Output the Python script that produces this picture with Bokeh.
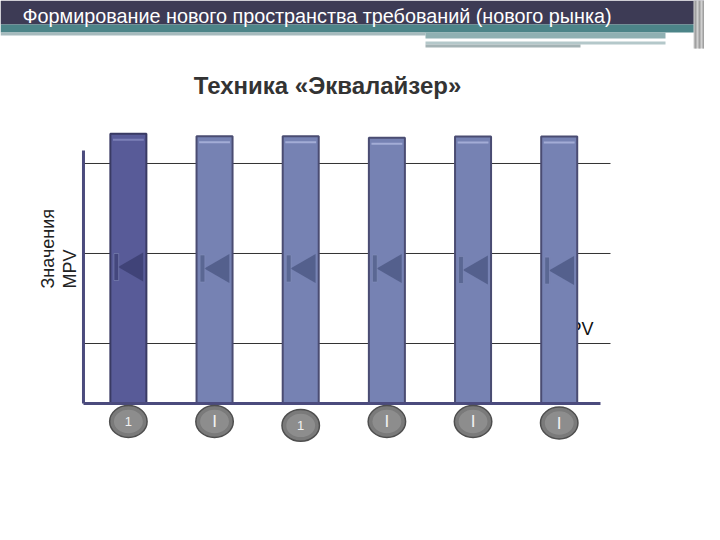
import numpy as np
from bokeh.plotting import figure
from bokeh.models import Range1d
from bokeh.core.properties import value
from bokeh.embed import file_html
from bokeh.resources import INLINE

# ---- data ----
categories = ["1", "I", "1", "I", "I", "I"]          # labels in the round badges
bar_values = [8.99, 8.91, 8.91, 8.86, 8.9, 8.9]       # column heights
slider_values = [4.55, 4.5, 4.5, 4.5, 4.45, 4.43]     # slider (triangle) positions
badge_values = [-0.6, -0.6, -0.73, -0.6, -0.6, -0.65] # badge centre heights
grid_values = [2, 5, 8]                                # horizontal reference lines
highlight = [True, False, False, False, False, False]

header_text = "Формирование нового пространства требований  (нового рынка)"
title_text = "Техника «Эквалайзер»"
ylabel_lines = ["Значения", "MPV"]
FONT = "Liberation Sans"

x = np.arange(1, len(categories) + 1, dtype=float)
bw = 0.418
ax_x0, ax_x1, grid_x1, ax_ytop = 0.479, 6.479, 6.595, 8.43

p = figure(width=704, height=524, x_range=Range1d(-0.484, 7.686),
           y_range=Range1d(-4.033, 13.433), min_border=0,
           x_axis_type=None, y_axis_type=None,
           toolbar_location=None, output_backend="svg",
           outline_line_color=None, background_fill_color="white",
           border_fill_color="white")
p.grid.visible = False
p.extra_x_ranges = {"px": Range1d(0, 704)}
p.extra_y_ranges = {"py": Range1d(524, 0)}
PX = dict(x_range_name="px", y_range_name="py")

# ---- header decoration ----
p.quad(left=[0], right=[720], top=[0], bottom=[24], fill_color="#3d3b55", line_color=None, **PX)
p.quad(left=[0], right=[695], top=[24], bottom=[32], fill_color="#4c8488", line_color=None, **PX)
p.quad(left=[0], right=[425], top=[32], bottom=[35], fill_color="#a6babd", line_color=None, **PX)
p.quad(left=[425], right=[665], top=[32], bottom=[38], fill_color="#8fb0b2", line_color=None, **PX)
p.quad(left=[425], right=[665], top=[41], bottom=[44], fill_color="#b4c8ca", line_color=None, **PX)
p.quad(left=[425], right=[580], top=[44], bottom=[47], fill_color="#a3b2b4", line_color=None, **PX)
p.quad(left=[693], right=[720], top=[0], bottom=[48], fill_color="#d0d0d0", line_color=None, **PX)
p.quad(left=[694, 698, 702], right=[696, 700, 704], top=[0, 0, 0], bottom=[48, 48, 48],
       fill_color="#a0a0a0", line_color=None, **PX)
p.text(x=[22], y=[15], text=[header_text], text_color="white",
       text_font=value(FONT), text_font_size="19.8px", text_baseline="middle",
       text_align="left", **PX)

# ---- title ----
p.text(x=[327], y=[85], text=[title_text], text_color="#333333",
       text_font=value(FONT), text_font_size="24px", text_font_style="bold",
       text_baseline="middle", text_align="center", **PX)

# ---- y label ----
p.text(x=[47, 69], y=[288, 288], text=ylabel_lines, angle=np.pi / 2,
       text_color="#222222", text_font=value(FONT), text_font_size="18px",
       text_baseline="middle", text_align="left", **PX)

# ---- grid lines ----
p.segment(x0=[ax_x0] * len(grid_values), y0=grid_values,
          x1=[grid_x1] * len(grid_values), y1=grid_values,
          line_color="#333333", line_width=1)

# partially hidden label behind last column
p.text(x=[6.398], y=[2.47], text=["MPV"], text_color="#111111",
       text_font=value(FONT), text_font_size="18px",
       text_baseline="middle", text_align="right")

# ---- columns ----
fills = ["#585b98" if h else "#7682b3" for h in highlight]
edges = ["#393a63" if h else "#4a4c72" for h in highlight]
p.vbar(x=x, top=bar_values, bottom=0, width=bw, fill_color=fills,
       line_color=edges, line_width=2)
top_hl = np.array(bar_values) - 0.2
p.segment(x0=x - bw / 2 + 0.03, y0=top_hl, x1=x + bw / 2 - 0.03, y1=top_hl,
          line_color=["#7c80b8" if h else "#a3acd6" for h in highlight], line_width=2)

# ---- sliders ----
tri_col = ["#3c3f72" if h else "#4f5b86" for h in highlight]
p.scatter(x=x + 0.075, y=slider_values, marker="triangle", size=29,
          angle=np.pi / 2, fill_color=tri_col, fill_alpha=0.85, line_color=None)
p.rect(x=x - 0.14, y=slider_values, width=0.055, height=0.9,
       fill_color=tri_col, fill_alpha=0.7, line_color="#8a94c0", line_alpha=0.5)

# ---- axes lines ----
p.segment(x0=[ax_x0], y0=[0], x1=[ax_x0], y1=[ax_ytop], line_color="#4b4b7d", line_width=3)
p.segment(x0=[ax_x0], y0=[0], x1=[ax_x1], y1=[0], line_color="#4b4b7d", line_width=3)

# ---- badges ----
p.ellipse(x=x, y=badge_values, width=bw * 1.04, height=1.06, fill_color="#7a7a7a",
          line_color="#4e4e4e", line_width=1.5)
p.ellipse(x=x, y=badge_values, width=bw * 0.8, height=0.78,
          fill_color="#929292", fill_alpha=0.8, line_color=None)
badge_font = ["13px" if c == "1" else "17px" for c in categories]
p.text(x=x, y=badge_values, text=categories, text_color="#f2f2f2",
       text_font=value(FONT), text_font_size=badge_font,
       text_baseline="middle", text_align="center")

open("out.html", "w").write(file_html(p, INLINE))
